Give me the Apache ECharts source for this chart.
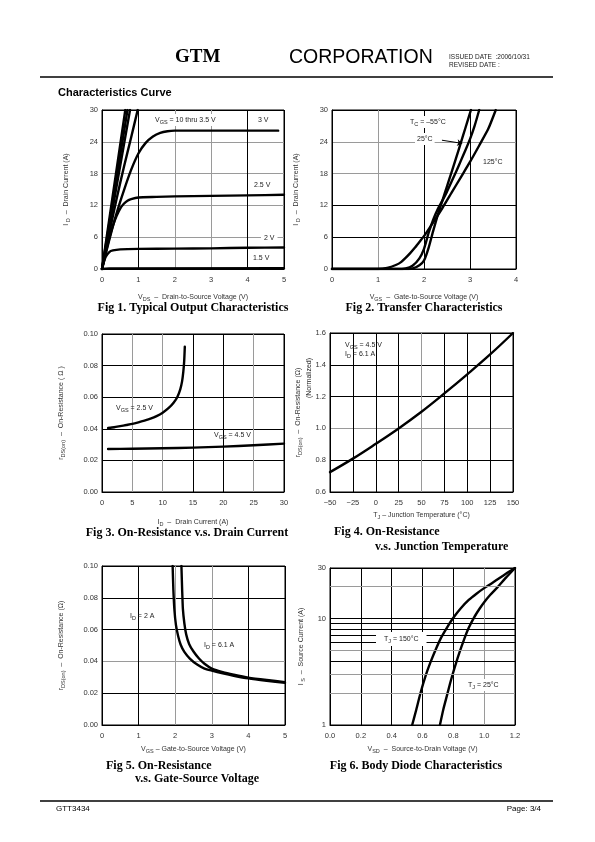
<!DOCTYPE html>
<html><head><meta charset="utf-8">
<script src="https://cdn.jsdelivr.net/npm/echarts@6/dist/echarts.min.js"></script>
<style>html,body{margin:0;padding:0;background:#fff}#c{width:595px;height:842px}</style>
</head><body><div id="c"></div>
<script>
// ---------- Fig 1: output characteristics (VDS [V], ID [A]) ----------
const f1_vgs10 = [[0,0],[0.64,30]];
const f1_vgs45 = [[0,0],[0.70,30]];
const f1_vgs4  = [[0,0],[0.77,30]];
const f1_vgs35 = [[0,0],[0.2,6.8],[0.4,13.2],[0.6,19.2],[0.8,24.8],[0.98,30]];
const f1_vgs3  = [[0,0],[0.2,5.5],[0.4,10.5],[0.6,14.8],[0.8,18.7],[1.0,21.8],[1.2,23.8],[1.4,25.0],[1.6,25.7],[1.8,26.0],[2.0,26.1],[3.0,26.1],[4.84,26.1]];
const f1_vgs25 = [[0,0],[0.1,3.0],[0.2,5.8],[0.3,8.2],[0.4,10.0],[0.5,11.4],[0.6,12.3],[0.7,12.9],[0.8,13.2],[1.0,13.5],[1.5,13.6],[2,13.7],[3,13.8],[4,13.9],[5,14.0]];
const f1_vgs2  = [[0,0],[0.05,1.3],[0.1,2.3],[0.2,3.2],[0.3,3.5],[0.5,3.7],[1,3.8],[2,3.85],[3,3.9],[4,4.0],[5,4.05]];
const f1_vgs15 = [[0,0],[0.2,0.1],[5,0.15]];

// ---------- Fig 2: transfer characteristics (VGS [V], ID [A]) ----------
const f2_m55 = [[0,0],[1.5,0],[1.75,0.1],[1.9,0.7],[2.0,1.6],[2.1,4.0],[2.2,7.2],[2.3,10.2],[2.4,12.9],[2.5,15.6],[2.6,18.3],[2.7,21],[2.8,23.8],[2.9,26.6],[3.02,30]];
const f2_t25 = [[0,0],[1.4,0],[1.6,0.1],[1.75,0.6],[1.9,2.0],[2.0,3.8],[2.1,6.8],[2.2,9.3],[2.3,11.3],[2.4,12.9],[2.5,14.6],[2.6,16.5],[2.7,18.4],[2.8,20.4],[2.9,22.4],[3.0,24.5],[3.1,27],[3.2,30]];
const f2_t125 = [[0,0],[1.0,0],[1.2,0.2],[1.4,0.8],[1.5,1.3],[1.6,2.1],[1.7,3.0],[1.8,4.0],[1.9,5.1],[2.0,6.2],[2.2,8.8],[2.4,11.5],[2.6,14.4],[2.8,17.3],[3.0,20.2],[3.2,23.3],[3.4,26.5],[3.56,30]];

// ---------- Fig 3: on-resistance vs drain current (ID [A], rDS [ohm]) ----------
const f3_vgs25 = [[1,0.0405],[2,0.041],[3,0.0417],[4,0.0424],[5,0.0431],[6,0.0441],[7,0.0452],[8,0.0464],[9,0.048],[10,0.0502],[11,0.0532],[11.8,0.0565],[12.4,0.06],[12.9,0.065],[13.2,0.07],[13.4,0.076],[13.55,0.083],[13.65,0.092]];
const f3_vgs45 = [[1,0.0272],[5,0.0274],[10,0.0277],[15,0.0281],[20,0.0287],[25,0.0296],[30,0.0306]];

// ---------- Fig 4: normalized on-resistance vs junction temperature ----------
const f4_temp = [-50,-25,0,25,50,75,100,125,150];
const f4_rnorm = [0.725,0.81,0.903,1.0,1.105,1.22,1.34,1.465,1.60];

// ---------- Fig 5: on-resistance vs gate-source voltage (VGS [V], rDS [ohm]) ----------
const f5_id2  = [[1.93,0.10],[1.95,0.085],[1.98,0.072],[2.02,0.063],[2.08,0.056],[2.15,0.0505],[2.25,0.046],[2.4,0.0418],[2.6,0.038],[2.8,0.0355],[3.0,0.0342],[3.3,0.0325],[3.6,0.031],[4.0,0.0293],[4.5,0.0278],[5.0,0.0265]];
const f5_id61 = [[2.17,0.10],[2.19,0.085],[2.21,0.073],[2.25,0.064],[2.3,0.057],[2.38,0.051],[2.5,0.0462],[2.65,0.0418],[2.8,0.0385],[3.0,0.0355],[3.3,0.0332],[3.6,0.0316],[4.0,0.0298],[4.5,0.0283],[5.0,0.027]];

// ---------- Fig 6: body diode (VSD [V], IS [A], log) ----------
const f6_t150 = [[0.533,1],[0.56,1.4],[0.587,2.0],[0.62,2.9],[0.652,3.9],[0.69,5.3],[0.72,6.6],[0.76,8.3],[0.8,10.2],[0.85,12.6],[0.9,15.0],[0.95,17.2],[1.0,19.4],[1.05,21.6],[1.1,24.2],[1.15,27],[1.2,30]];
const f6_t25  = [[0.713,1],[0.735,1.4],[0.76,1.93],[0.78,2.5],[0.804,3.3],[0.835,4.6],[0.87,6.4],[0.9,8.2],[0.935,10.3],[0.97,12.4],[1.0,14.3],[1.04,16.8],[1.087,19.8],[1.14,24.2],[1.2,30]];
const f6_minorTicks = [2,3,4,5,6,7,8,9,20];

// ---------------------------------------------------------------------
const FONT = '"Liberation Sans", Arial, sans-serif';
const SERIF = '"Liberation Serif", "Times New Roman", serif';
const K = '#000', G = '#9a9a9a';
const RICH = {
  a: {fontSize: 7, fontFamily: FONT, color: '#333', lineHeight: 10, verticalAlign: 'middle'},
  s: {fontSize: 5.5, fontFamily: FONT, color: '#333', lineHeight: 6, verticalAlign: 'bottom'}
};

const grids = [
  {left:102, top:110, width:182, height:159},
  {left:332, top:110, width:184, height:159},
  {left:102, top:334, width:182, height:158},
  {left:330, top:333, width:183, height:159},
  {left:102, top:566, width:183, height:159},
  {left:330, top:568, width:185, height:157}
].map(g => Object.assign({show:true, borderColor:'#000', borderWidth:1, backgroundColor:'#fff', containLabel:false, outerBoundsMode:'none'}, g));

function ax(dim, gi, o) {
  return {
    type: o.type || 'value', gridIndex: gi, min: o.min, max: o.max, interval: o.interval, logBase: o.logBase,
    name: o.name, nameLocation: 'middle', nameGap: o.gap, nameRotate: dim === 'y' ? 90 : 0,
    nameTextStyle: {fontSize: 7, color: '#333', fontFamily: FONT, rich: RICH},
    axisLine: {show: true, onZero: false, lineStyle: {color: '#000', width: 1}},
    axisTick: {show: false},
    axisLabel: {fontSize: 7.5, color: '#333', fontFamily: FONT, margin: dim === 'y' ? 4 : 7, formatter: o.fmt, showMinLabel: true, showMaxLabel: true},
    splitLine: {show: true, lineStyle: {color: o.colors, width: 1}}
  };
}
const fx = d => v => v.toFixed(d);
const fneg = v => (v < 0 ? '\u2212' + (-v) : '' + v);

const xAxis = [
  ax('x',0,{min:0,max:5,interval:1,gap:23,name:'{a|V}{s|DS}{a|  \u2013  Drain-to-Source Voltage (V)}',colors:[K,K,G,G,K,K]}),
  ax('x',1,{min:0,max:4,interval:1,gap:23,name:'{a|V}{s|GS}{a|  \u2013  Gate-to-Source Voltage (V)}',colors:[K,G,K,K,K]}),
  ax('x',2,{min:0,max:30,interval:5,gap:25,name:'{a|I}{s|D}{a|  \u2013  Drain Current (A)}',colors:[K,G,G,K,K,G,K]}),
  ax('x',3,{min:-50,max:150,interval:25,gap:18,fmt:fneg,name:'{a|T}{s|J}{a| \u2013 Junction Temperature (\u00B0C)}',colors:[K,K,K,K,G,K,K,K,K]}),
  ax('x',4,{min:0,max:5,interval:1,gap:19,name:'{a|V}{s|GS}{a| \u2013 Gate-to-Source Voltage (V)}',colors:[K,K,G,G,K,K]}),
  ax('x',5,{min:0,max:1.2,interval:0.2,gap:19,fmt:fx(1),name:'{a|V}{s|SD}{a|  \u2013  Source-to-Drain Voltage (V)}',colors:[K,K,K,K,K,G,K]})
];
const yAxis = [
  ax('y',0,{min:0,max:30,interval:6,gap:31,name:'{a|I}{s| D}{a|  \u2013  Drain Current (A)}',colors:[K,G,G,G,G,K]}),
  ax('y',1,{min:0,max:30,interval:6,gap:31,name:'{a|I}{s| D}{a|  \u2013  Drain Current (A)}',colors:[K,K,K,G,G,K]}),
  ax('y',2,{min:0,max:0.1,interval:0.02,gap:36,fmt:fx(2),name:'{a|r}{s|DS(on)}{a|  \u2013  On-Resistance ( \u03A9 )}',colors:[K,K,K,K,K,K]}),
  ax('y',3,{min:0.6,max:1.6,interval:0.2,gap:27,fmt:fx(1),name:'{a|r}{s|DS(on)}{a|  \u2013  On-Resistance (\u03A9)}',colors:[K,K,G,K,K,K]}),
  ax('y',4,{min:0,max:0.1,interval:0.02,gap:36,fmt:fx(2),name:'{a|r}{s|DS(on)}{a|  \u2013  On-Resistance (\u03A9)}',colors:[K,K,G,K,K,K]}),
  ax('y',5,{type:'log',logBase:10,min:1,max:30,gap:24,name:'{a|I}{s| S}{a|  \u2013  Source Current (A)}',colors:[K,K,K]})
];

function line(gi, data, extra) {
  return Object.assign({type:'line', xAxisIndex:gi, yAxisIndex:gi, data:data, symbol:'none', showSymbol:false,
    smooth:0.2, lineStyle:{color:'#000', width:2.4, join:'round', cap:'round'}, animation:false, silent:true, clip:true}, extra || {});
}

const minorColors = [G,G,K,G,K,K,K,K,G];
const series = [
  line(0,f1_vgs10,{smooth:false}), line(0,f1_vgs45,{smooth:false}), line(0,f1_vgs4,{smooth:false}),
  line(0,f1_vgs35), line(0,f1_vgs3), line(0,f1_vgs25), line(0,f1_vgs2), line(0,f1_vgs15,{smooth:false}),
  line(1,f2_m55), line(1,f2_t125),
  line(1,f2_t25,{markLine:{silent:true, symbol:['none','arrow'], symbolSize:5, label:{show:false},
    lineStyle:{color:'#000', width:1, type:'solid'}, data:[[{coord:[2.39,24.3]},{coord:[2.83,23.7]}]]}}),
  line(2,f3_vgs25), line(2,f3_vgs45),
  line(3,f4_temp.map((t,i)=>[t,f4_rnorm[i]]),{smooth:0.4}),
  line(4,f5_id2), line(4,f5_id61),
  line(5,f6_t25),
  line(5,f6_t150,{markLine:{silent:true, symbol:['none','none'], label:{show:false}, animation:false,
    data: f6_minorTicks.map((v,i)=>({yAxis:v, lineStyle:{color:minorColors[i], width:1, type:'solid'}}))}})
];

function T(x, y, text, o) {
  o = o || {};
  return {type:'text', x:x, y:y, z:100, silent:true, rotation:o.rot || 0,
    style:Object.assign({text:text, fill:'#222', font:o.font || ('7px ' + FONT), align:o.align || 'left', verticalAlign:'middle', rich:RICH}, o.style || {})};
}
const WB = {backgroundColor:'#fff', padding:[1,2]};
const capFont = 'bold 12px ' + SERIF;

const graphic = [
  T(175, 57, 'GTM', {font:'bold 19px ' + SERIF, style:{fill:'#000'}}),
  T(289, 58, 'CORPORATION', {font:'19.5px ' + FONT, style:{fill:'#000'}}),
  T(449, 57, 'ISSUED DATE  :2006/10/31', {font:'6.5px ' + FONT}),
  T(449, 65, 'REVISED DATE :', {font:'6.5px ' + FONT}),
  {type:'line', z:100, silent:true, shape:{x1:40,y1:77,x2:553,y2:77}, style:{stroke:'#000', lineWidth:1.5}},
  T(58, 93, 'Characteristics Curve', {font:'bold 11px ' + FONT, style:{fill:'#000'}}),
  {type:'line', z:100, silent:true, shape:{x1:40,y1:801,x2:553,y2:801}, style:{stroke:'#000', lineWidth:1.5}},
  T(56, 809, 'GTT3434', {font:'8px ' + FONT, style:{fill:'#000'}}),
  T(541, 809, 'Page: 3/4', {font:'8px ' + FONT, align:'right', style:{fill:'#000'}}),
  // captions
  T(193, 308, 'Fig 1. Typical Output Characteristics', {font:capFont, align:'center', style:{fill:'#000'}}),
  T(424, 308, 'Fig 2. Transfer Characteristics', {font:capFont, align:'center', style:{fill:'#000'}}),
  T(187, 533, 'Fig 3. On-Resistance v.s. Drain Current', {font:capFont, align:'center', style:{fill:'#000'}}),
  T(334, 532, 'Fig 4. On-Resistance', {font:capFont, style:{fill:'#000'}}),
  T(375, 547, 'v.s. Junction Temperature', {font:capFont, style:{fill:'#000'}}),
  T(106, 766, 'Fig 5. On-Resistance', {font:capFont, style:{fill:'#000'}}),
  T(135, 779, 'v.s. Gate-Source Voltage', {font:capFont, style:{fill:'#000'}}),
  T(416, 766, 'Fig 6. Body Diode Characteristics', {font:capFont, align:'center', style:{fill:'#000'}}),
  // fig 4 second y-name line
  T(309, 378, '{a|(Normalized)}', {rot:Math.PI/2, align:'center'}),
  // annotations fig 1
  T(153, 120, '{a|V}{s|GS}{a| = 10 thru 3.5 V}', {style:WB}),
  T(256, 120, '{a|3 V}', {style:WB}),
  T(252, 185, '{a|2.5 V}', {style:WB}),
  T(261, 238, '{a|2 V}', {style:{backgroundColor:'#fff', padding:[1,3]}}),
  T(251, 258, '{a|1.5 V}', {style:WB}),
  // fig 2
  T(408, 122, '{a|T}{s|C}{a| = \u201355\u00B0C}', {style:WB}),
  T(415, 139, '{a|25\u00B0C}', {style:WB}),
  T(481, 162, '{a|125\u00B0C}', {style:WB}),
  // fig 3
  T(116, 408, '{a|V}{s|GS}{a| = 2.5 V}'),
  T(214, 435, '{a|V}{s|GS}{a| = 4.5 V}'),
  // fig 4
  T(345, 345, '{a|V}{s|GS}{a| = 4.5 V}'),
  T(345, 354, '{a|I}{s|D}{a| = 6.1 A}'),
  // fig 5
  T(130, 616, '{a|I}{s|D}{a| = 2 A}'),
  T(204, 645, '{a|I}{s|D}{a| = 6.1 A}'),
  // fig 6
  T(376, 639, '{a|T}{s|J}{a| = 150\u00B0C}', {style:{backgroundColor:'#fff', padding:[2,8]}}),
  T(466, 685, '{a|T}{s|J}{a| = 25\u00B0C}', {style:WB})
];

const chart = echarts.init(document.getElementById('c'), null, {renderer:'canvas', width:595, height:842});
chart.setOption({backgroundColor:'#fff', animation:false, grid:grids, xAxis:xAxis, yAxis:yAxis, series:series, graphic:graphic});
</script>
</body></html>
